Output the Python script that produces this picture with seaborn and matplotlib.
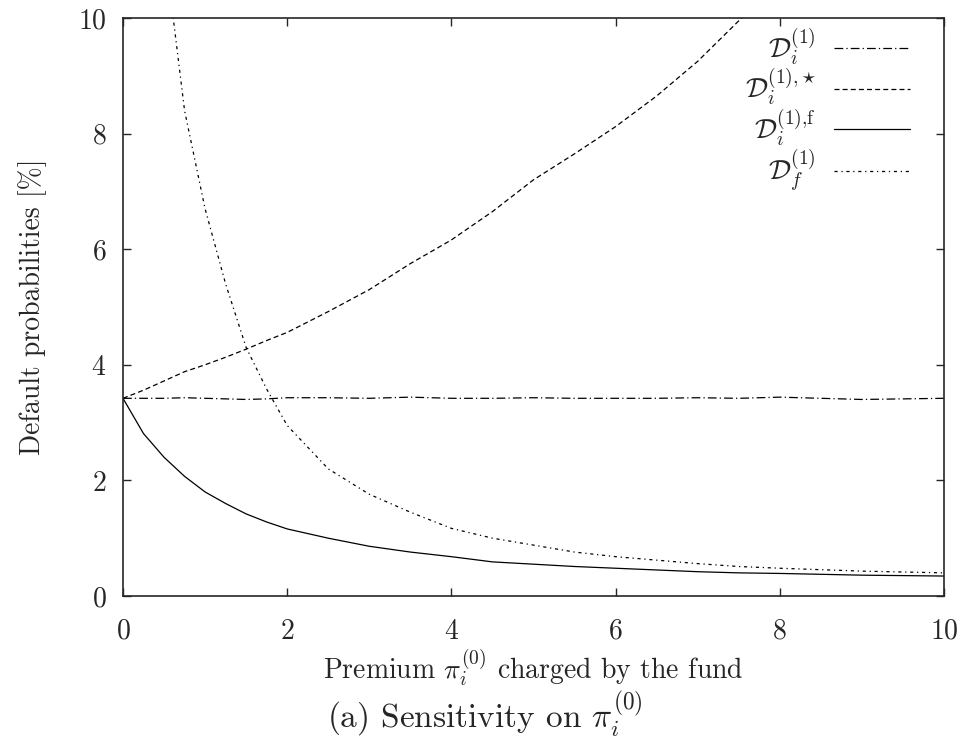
import numpy as np
import pandas as pd
import matplotlib
matplotlib.use("Agg")
import matplotlib.pyplot as plt
import seaborn as sns

# premium values on the x axis
premium = [0, 0.25, 0.5, 0.75, 1, 1.25, 1.5, 1.75, 2, 2.5, 3, 3.5, 4, 4.5,
           5, 5.5, 6, 6.5, 7, 7.5, 8, 9, 10]

# default probabilities [%]
d_i = [3.42, 3.42, 3.42, 3.43, 3.42, 3.41, 3.40, 3.41, 3.43, 3.43, 3.42, 3.44,
       3.42, 3.42, 3.43, 3.42, 3.42, 3.42, 3.43, 3.42, 3.44, 3.40, 3.42]
d_i_star = [3.42, 3.56, 3.72, 3.88, 4.00, 4.13, 4.27, 4.42, 4.56, 4.92, 5.30,
            5.75, 6.16, 6.65, 7.20, 7.65, 8.12, 8.65, 9.25, 9.95, 10.6, 12.0, 13.5]
d_i_f = [3.42, 2.81, 2.40, 2.07, 1.80, 1.60, 1.42, 1.28, 1.16, 1.00, 0.86, 0.76,
         0.68, 0.59, 0.55, 0.51, 0.48, 0.45, 0.42, 0.40, 0.39, 0.36, 0.345]
d_f = [20.0, 15.0, 11.3, 8.4, 6.7, 5.4, 4.3, 3.58, 2.95, 2.20, 1.76, 1.45,
       1.17, 1.00, 0.88, 0.76, 0.68, 0.62, 0.56, 0.51, 0.48, 0.43, 0.40]

labels = [r"$\mathcal{D}_i^{(1)}$", r"$\mathcal{D}_i^{(1){,}\star}$",
          r"$\mathcal{D}_i^{(1){,}\mathrm{f}}$", r"$\mathcal{D}_f^{(1)}$"]
styles = [(0, (7, 2.5, 1, 2.5)), (0, (4, 2.5)), "-", (0, (2.5, 3, 1, 3))]

sns.set_style("ticks")
plt.rcParams["font.family"] = "serif"
plt.rcParams["font.serif"] = ["cmr10"]
plt.rcParams["mathtext.fontset"] = "cm"
plt.rcParams["axes.formatter.use_mathtext"] = True
plt.rcParams["axes.unicode_minus"] = False

fig = plt.figure(figsize=(9.66, 7.46), dpi=100)
ax = fig.add_axes([0.1273, 0.2011, 0.8499, 0.7748])

for series, lab, ls in zip([d_i, d_i_star, d_i_f, d_f], labels, styles):
    df = pd.DataFrame({"premium": premium, "prob": series})
    sns.lineplot(data=df, x="premium", y="prob", ax=ax, color="black",
                 linewidth=0.9, linestyle=ls, label=lab)

ax.set_xlim(0, 10)
ax.set_ylim(0, 10)
ax.set_xticks(np.arange(0, 11, 2))
ax.set_yticks(np.arange(0, 11, 2))
ax.tick_params(axis="both", direction="in", length=6, width=1, labelsize=20,
               top=True, right=True)
ax.tick_params(axis="x", pad=16)
ax.tick_params(axis="y", pad=12)
for sp in ax.spines.values():
    sp.set_linewidth(1.2)

ax.set_xlabel(r"Premium $\pi_i^{(0)}$ charged by the fund", fontsize=20,
              labelpad=2)
ax.set_ylabel("Default probabilities [%]", fontsize=20, labelpad=22)

ax.legend(loc="upper right", bbox_to_anchor=(0.959, 0.985), frameon=False,
          markerfirst=False, fontsize=20, handlelength=2.75,
          handletextpad=0.65, labelspacing=0.0, borderpad=0, borderaxespad=0)

fig.text(0.502, 0.0255, r"(a) Sensitivity on $\pi_i^{(0)}$", ha="center",
         fontsize=24)

fig.savefig("out.png", dpi=100)
